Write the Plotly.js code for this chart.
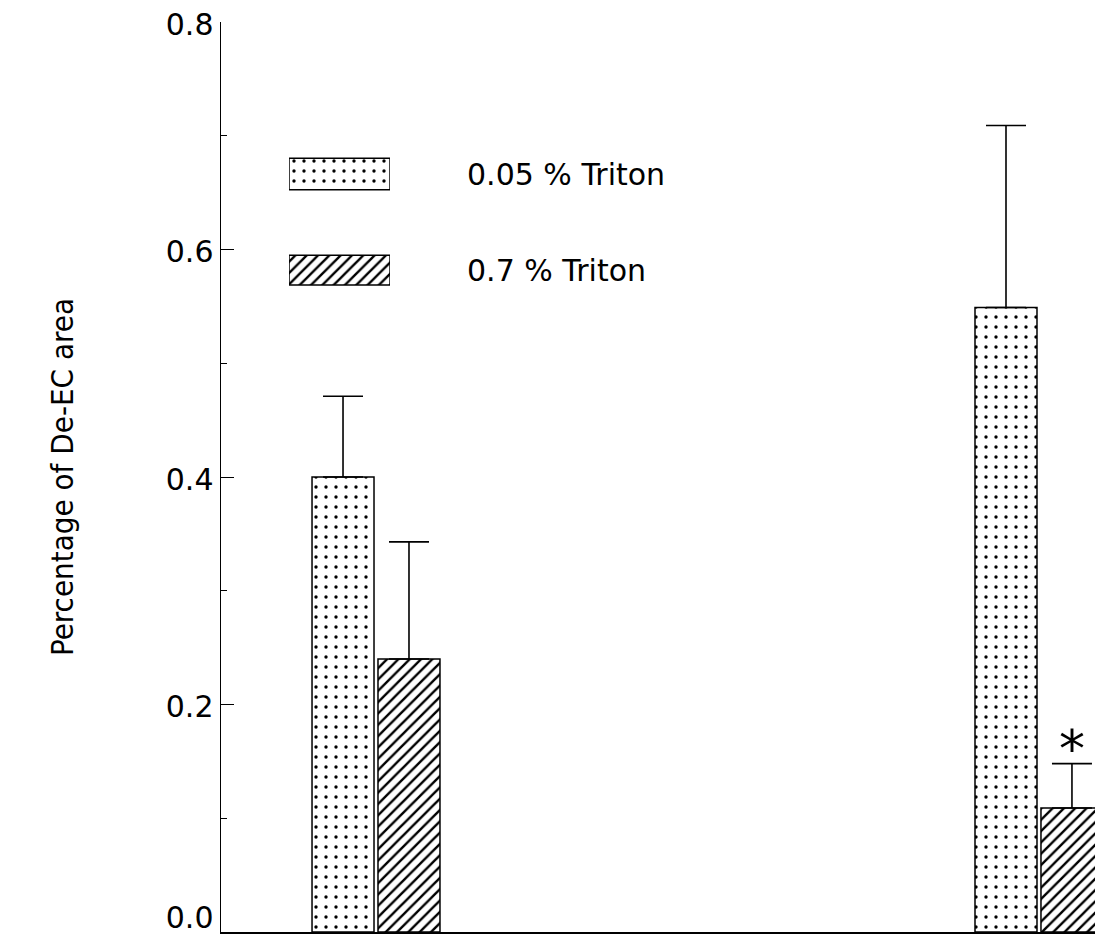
<!DOCTYPE html>
<html>
<head>
<meta charset="utf-8">
<script src="https://cdn.plot.ly/plotly-3.0.1.min.js"></script>
<style>html,body{margin:0;padding:0;background:#fff;}#chart{width:1095px;height:935px;}</style>
</head>
<body>
<div id="chart"></div>
<script>
// ---- data ----
const groups = [1, 2];
const seriesNames = ['0.05 % Triton', '0.7 % Triton'];
const valsLow = [0.40, 0.549];
const errLow = [0.071, 0.160];
const valsHigh = [0.240, 0.109];
const errHigh = [0.103, 0.039];
const noLowerErr = [0, 0];
const yTickVals = [0.0, 0.2, 0.4, 0.6, 0.8];
const yTickText = ['0.0', '0.2', '0.4', '0.6', '0.8'];
const yMinorTickVals = [0.1, 0.3, 0.5, 0.7];
const yTitle = 'Percentage of De-EC area';
const sigMarks = ['', '*'];

// ---- styles ----
const barW = 0.0935;
const offA = -0.0965;
const offB = 0.003;
const patA = {shape: '.', size: 10, solidity: 0.09, fgcolor: '#000', bgcolor: '#fff', fillmode: 'replace'};
const patB = {shape: '/', size: 8, solidity: 0.3, fgcolor: '#000', bgcolor: '#fff', fillmode: 'replace'};
const lineStyle = {color: '#000', width: 1.5};
const errStyle = {color: '#000', thickness: 1.6, width: 20};
const tickFont = {family: 'DejaVu Sans, sans-serif', size: 30, color: '#000'};

const traces = [
  {
    type: 'bar', x: groups, y: valsLow, name: seriesNames[0],
    width: barW, offset: offA,
    marker: {color: '#fff', line: lineStyle, pattern: patA},
    error_y: Object.assign({type: 'data', symmetric: false, array: errLow, arrayminus: noLowerErr}, errStyle),
    showlegend: false, hoverinfo: 'skip'
  },
  {
    type: 'bar', x: groups, y: valsHigh, name: seriesNames[1],
    width: barW, offset: offB,
    marker: {color: '#fff', line: lineStyle, pattern: patB},
    error_y: Object.assign({type: 'data', symmetric: false, array: errHigh, arrayminus: noLowerErr}, errStyle),
    showlegend: false, hoverinfo: 'skip'
  },
  // legend swatches
  {
    type: 'bar', orientation: 'h', x: [1], y: [seriesNames[0]], xaxis: 'x2', yaxis: 'y2',
    width: 0.33, marker: {color: '#fff', line: lineStyle, pattern: patA},
    showlegend: false, hoverinfo: 'skip'
  },
  {
    type: 'bar', orientation: 'h', x: [1], y: [seriesNames[1]], xaxis: 'x2', yaxis: 'y2',
    width: 0.31, marker: {color: '#fff', line: lineStyle, pattern: patB},
    showlegend: false, hoverinfo: 'skip'
  }
];
// invisible helpers so the tick-only overlay axes are drawn
['y3', 'y4', 'y5'].forEach(ax => traces.push({
  type: 'scatter', mode: 'none', x: [groups[0]], y: [yMinorTickVals[0]], xaxis: 'x', yaxis: ax,
  showlegend: false, hoverinfo: 'skip'
}));

const annotations = [];
groups.forEach((g, i) => {
  if (sigMarks[i]) {
    annotations.push({
      x: g + offB + barW / 2, y: valsHigh[i] + errHigh[i], xref: 'x', yref: 'y',
      text: sigMarks[i], showarrow: false, yanchor: 'bottom', yshift: -17,
      font: {family: 'DejaVu Sans, sans-serif', size: 52, color: '#000'}
    });
  }
});

const tickOnly = {
  range: [0, 0.8], overlaying: 'y', showline: false, showgrid: false, zeroline: false,
  tickmode: 'array', tickcolor: '#000'
};

const layout = {
  width: 1095, height: 935,
  margin: {l: 221, r: 0, t: 22, b: 3},
  paper_bgcolor: '#fff', plot_bgcolor: '#fff',
  barmode: 'overlay',
  showlegend: false,
  xaxis: {
    range: [0.7662, 2.0845], showline: true, linecolor: '#000', linewidth: 1.5,
    showgrid: false, zeroline: false, showticklabels: false, ticks: '', fixedrange: true
  },
  yaxis: {
    range: [0, 0.8], showline: true, linecolor: '#000', linewidth: 1.5,
    showgrid: false, zeroline: false,
    tickmode: 'array', tickvals: yTickVals.slice(1), ticktext: yTickText.slice(1),
    ticks: '', tickfont: tickFont, ticklabeloverflow: 'allow', ticklabelshift: 2,
    title: {text: yTitle, standoff: 83, font: {family: 'Liberation Sans Narrow, DejaVu Sans Condensed, sans-serif', size: 31, color: '#000'}}
  },
  // short ticks at every 0.1 (inside)
  yaxis3: Object.assign({}, tickOnly, {
    anchor: 'x', side: 'left', showticklabels: false,
    tickvals: yMinorTickVals.concat(yTickVals), ticks: 'inside', ticklen: 6, tickwidth: 1
  }),
  // longer major ticks (inside)
  yaxis4: Object.assign({}, tickOnly, {
    anchor: 'x', side: 'left', showticklabels: false,
    tickvals: yTickVals.slice(1), ticks: 'inside', ticklen: 13, tickwidth: 1
  }),
  // label at the origin
  yaxis5: Object.assign({}, tickOnly, {
    anchor: 'x', side: 'left', ticks: '',
    showline: true, linecolor: '#000', linewidth: 1.5,
    tickvals: yTickVals.slice(0, 1), ticktext: yTickText.slice(0, 1),
    tickfont: tickFont, ticklabeloverflow: 'allow', ticklabelshift: -15
  }),
  xaxis2: {
    domain: [0.0778, 0.1934], range: [0, 1], anchor: 'y2',
    showline: false, showgrid: false, zeroline: false, showticklabels: false, ticks: ''
  },
  yaxis2: {
    domain: [0.6747, 0.8857], range: [1.5, -0.5], anchor: 'x2', side: 'right',
    type: 'category',
    showline: false, showgrid: false, zeroline: false, ticks: '',
    tickfont: tickFont, ticklabelstandoff: 76
  },
  annotations: annotations
};

Plotly.newPlot('chart', traces, layout, {displayModeBar: false, staticPlot: true});
</script>
</body>
</html>
